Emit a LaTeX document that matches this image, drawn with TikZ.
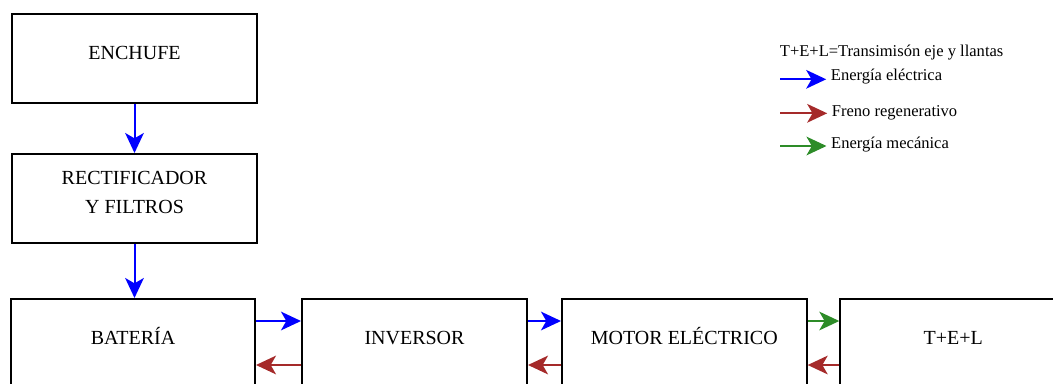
\documentclass[tikz,border=0pt]{standalone}
\usepackage{fontspec}
\setmainfont{Liberation Serif}
\usetikzlibrary{arrows.meta,calc}
\definecolor{azul}{RGB}{0,0,255}
\definecolor{rojo}{RGB}{165,42,42}
\definecolor{verde}{RGB}{45,140,40}
\begin{document}
\begin{tikzpicture}[
x=0.75pt,y=-0.75pt,
caja/.style={
draw,
line width=1.5pt,
anchor=north west,
align=center,
minimum height=66.75pt,
inner sep=0pt,
text height=6pt,
text depth=4.8pt,
font=\fontsize{15}{21.75}\selectfont
},
leyenda/.style={
anchor=base west,
font=\fontsize{12.4}{15}\selectfont
},
flecha/.style={
line width=1.5pt,
-{Stealth[length=15pt,width=14pt,inset=4pt]}
}
]

\useasboundingbox (0,0) rectangle (1053,383);
\clip (0,0) rectangle (1053,383);

\node[caja, minimum width=183.75pt] (E)
at (11,13)
{ENCHUFE};

\node[caja, minimum width=183.75pt, text height=27.66pt, text depth=5pt] (R)
at (11,153)
{RECTIFICADOR\\Y FILTROS};

\node[caja, minimum width=183pt] (B)
at (10,298)
{BATERÍA};

\node[caja, minimum width=168.75pt] (I)
at (301,298)
{INVERSOR};

\node[caja, minimum width=183.5pt] (M)
at (561,298)
{MOTOR ELÉCTRICO};

\node[caja, minimum width=169.5pt] (T)
at (839.3,298)
{T+E+L};

\draw[flecha, azul] (E) -- (R);
\draw[flecha, azul] (R.south) -- (R.south |- B.north);

\draw[flecha, azul] ($(B.north east)+(0,23)$) -- ($(I.north west)+(0,23)$);
\draw[flecha, azul] ($(I.north east)+(0,23)$) -- ($(M.north west)+(0,23)$);
\draw[flecha, verde] ($(M.north east)+(0,23)$) -- ($(T.north west)+(0,23)$);
\draw[flecha, rojo] ($(I.north west)+(0,67)$) -- ($(B.north east)+(0,67)$);
\draw[flecha, rojo] ($(M.north west)+(0,67)$) -- ($(I.north east)+(0,67)$);
\draw[flecha, rojo] ($(T.north west)+(0,67)$) -- ($(M.north east)+(0,67)$);

% leyenda
\node[leyenda] (LT)
at (775.2,56)
{T+E+L=Transimisón eje y llantas};

\node[leyenda] (L1)
at (826.2,80.7)
{Energía eléctrica};

\node[leyenda] (L2)
at (827.2,116)
{Freno regenerativo};

\node[leyenda] (L3)
at (826.5,148.3)
{Energía mecánica};

\coordinate (c1) at (780,79.3);
\coordinate (c2) at (780,113.3);
\coordinate (c3) at (780,146);

\draw[flecha, azul] (c1) -- (L1.west |- c1);
\draw[flecha, rojo] (c2) -- (L2.west |- c2);
\draw[flecha, verde] (c3) -- (L3.west |- c3);

\end{tikzpicture}
\end{document}
